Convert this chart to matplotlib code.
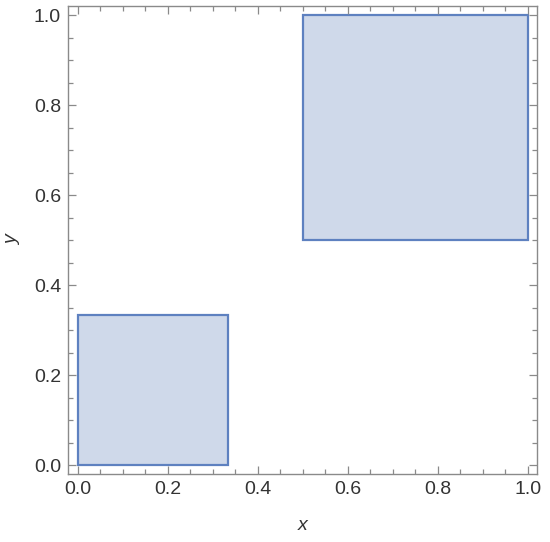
import matplotlib
matplotlib.use("Agg")
import matplotlib.pyplot as plt
from matplotlib.patches import Rectangle
from matplotlib.ticker import MultipleLocator

# rectangles: (x0, y0, x1, y1)
rect_x0 = [0.0, 0.5]
rect_y0 = [0.0, 0.5]
rect_x1 = [1/3, 1.0]
rect_y1 = [1/3, 1.0]

xticks = [0.0, 0.2, 0.4, 0.6, 0.8, 1.0]
yticks = [0.0, 0.2, 0.4, 0.6, 0.8, 1.0]

plt.rcParams['font.family'] = ['Liberation Sans', 'DejaVu Sans']

fig = plt.figure(figsize=(5.5, 5.42), dpi=100)
ax = fig.add_axes([68/550, (542-474)/542, (537-68)/550, (474-6)/542])

fill = '#cfd9ea'
edge = '#5e81c0'
for x0, y0, x1, y1 in zip(rect_x0, rect_y0, rect_x1, rect_y1):
    ax.add_patch(Rectangle((x0, y0), x1 - x0, y1 - y0, facecolor=fill,
                           edgecolor=edge, linewidth=1.6))

ax.set_xlim(-0.022, 1.02)
ax.set_ylim(-0.02, 1.02)
ax.set_xticks(xticks)
ax.set_yticks(yticks)
ax.set_xticklabels([f"{v:.1f}" for v in xticks])
ax.set_yticklabels([f"{v:.1f}" for v in yticks])
ax.xaxis.set_minor_locator(MultipleLocator(0.05))
ax.yaxis.set_minor_locator(MultipleLocator(0.05))

frame_col = '#8a8a8a'
for s in ax.spines.values():
    s.set_color(frame_col)
    s.set_linewidth(1.0)
ax.tick_params(which='both', direction='in', top=True, right=True,
               color=frame_col, width=0.9)
ax.tick_params(which='major', length=6, labelsize=14, labelcolor='#333333', pad=5)
ax.tick_params(which='minor', length=3.5)

ax.set_xlabel('x', fontsize=14, style='italic', color='#333333', labelpad=14)
ax.set_ylabel('y', fontsize=14, style='italic', color='#333333', labelpad=9)

fig.savefig('out.png', dpi=100)
